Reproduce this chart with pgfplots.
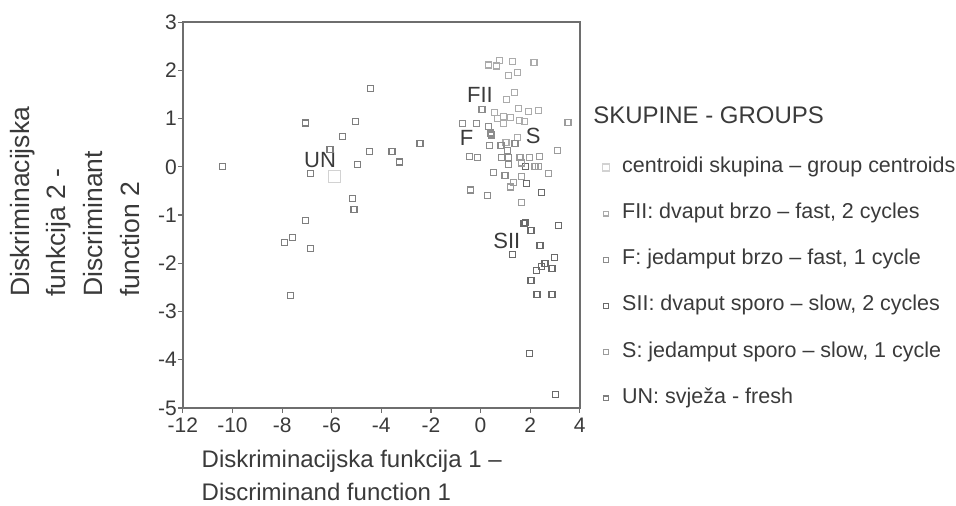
\documentclass[border=0pt]{standalone}
\usepackage{fontspec}
\setmainfont{Liberation Sans}
\usepackage{pgfplots}
\pgfplotsset{compat=1.18}
\definecolor{axgray}{HTML}{6E6E6E}
\definecolor{txt}{HTML}{3A3A3A}
\definecolor{cent}{HTML}{D2D2D2}
\definecolor{cFII}{HTML}{ABABAB}
\definecolor{cF}{HTML}{8C8C8C}
\definecolor{cSII}{HTML}{6A6A6A}
\definecolor{cS}{HTML}{9C9C9C}
\definecolor{cUN}{HTML}{7E7E7E}
\begin{document}
\begin{tikzpicture}
\begin{axis}[
 width=397pt, height=386pt, scale only axis,
 xmin=-12, xmax=4, ymin=-5, ymax=3,
 xtick={-12,-10,...,4}, ytick={-5,-4,...,3},
 tick align=outside, xtick pos=bottom, ytick pos=left,
 major tick length=5pt,
 axis line style={axgray, line width=1.6pt},
 every tick/.style={axgray, line width=1.2pt},
 tick label style={font=\fontsize{21}{21}\selectfont, text=txt},
 xticklabel style={inner sep=2pt, yshift=-3pt},
 yticklabel style={inner sep=1pt},
 /pgf/number format/assume math mode=true,
 clip=false,
 xlabel={Diskriminacijska funkcija 1 –\\Discriminand function 1},
 xlabel style={at={(axis description cs:0.047,-0.109)}, anchor=north west, align=left, font=\fontsize{24}{33}\selectfont, inner sep=0pt, text=txt},
 ylabel={Diskriminacijska\\funkcija 2 -\\Discriminant\\function 2},
 ylabel style={at={(axis description cs:-0.436,0.2876)}, anchor=north west, align=left, font=\fontsize{26.5}{36.7}\selectfont, inner sep=0pt, text=txt},
 legend style={draw=none, fill=none, at={(axis cs:4.90,0.24)}, anchor=north west,
   font=\fontsize{21.5}{21.5}\selectfont, text=txt, row sep=22.2pt, column sep=11pt, inner sep=0pt,
   nodes={inner sep=2pt, text height=15pt, text depth=5pt}},
 legend cell align=left,
]
\addplot[only marks, mark=square, mark size=6pt, draw=cent, line width=1.2pt,
  legend image post style={mark size=3.5pt}] coordinates {(-5.88,-0.2)};
\addlegendentry{centroidi skupina – group centroids}

\addplot[only marks, mark=square, mark size=3pt, draw=cFII, line width=1.2pt,
  legend image post style={mark size=2.4pt}] coordinates {
(0.31,2.11) (0.75,2.20) (1.30,2.19) (2.16,2.16) (0.64,2.09) (1.48,1.96) (1.12,1.89)
(1.38,1.54) (1.06,1.40) (0.58,1.13) (1.53,1.21) (1.92,1.15) (2.33,1.16) (0.68,1.00)
(0.92,1.05) (1.22,1.02) (1.56,0.96) (1.77,0.94) (0.92,0.90) (1.48,0.60) (1.03,0.51)
};
\addlegendentry{FII: dvaput brzo – fast, 2 cycles}

\addplot[only marks, mark=square, mark size=3pt, draw=cF, line width=1.2pt,
  legend image post style={mark size=2.4pt}] coordinates {
(0.06,1.19) (-0.72,0.90) (-0.15,0.90) (0.31,0.84) (0.41,0.70) (0.43,0.66) (0.35,0.44)
(0.83,0.44) (-0.45,0.22) (-0.13,0.19) (0.85,0.19) (1.12,0.19) (1.12,0.04) (0.52,-0.11)
(0.99,-0.18) (-0.40,-0.48) (0.27,-0.60) (1.39,0.48) (1.08,0.34)
};
\addlegendentry{F: jedamput brzo – fast, 1 cycle}

\addplot[only marks, mark=square, mark size=3pt, draw=cSII, line width=1.2pt,
  legend image post style={mark size=2.4pt}] coordinates {
(1.83,0.01) (1.86,-0.34) (2.47,-0.53) (1.83,-1.15) (1.75,-1.18) (2.04,-1.32) (3.15,-1.22)
(2.40,-1.63) (1.30,-1.82) (2.98,-1.88) (2.60,-2.00) (2.47,-2.07) (2.88,-2.11) (2.27,-2.15)
(2.04,-2.35) (2.28,-2.64) (2.88,-2.64) (1.97,-3.87) (3.04,-4.72)
};
\addlegendentry{SII: dvaput sporo – slow, 2 cycles}

\addplot[only marks, mark=square, mark size=3pt, draw=cS, line width=1.2pt,
  legend image post style={mark size=2.4pt}] coordinates {
(3.53,0.92) (3.10,0.33) (1.59,0.19) (1.97,0.20) (2.37,0.22) (1.66,0.08) (2.20,0.01)
(2.33,0.01) (2.74,-0.14) (1.66,-0.20) (1.32,-0.32) (1.22,-0.42) (1.66,-0.74)
};
\addlegendentry{S: jedamput sporo – slow, 1 cycle}

\addplot[only marks, mark=square, mark size=3pt, draw=cUN, line width=1.2pt,
  legend image post style={mark size=2.4pt}] coordinates {
(-10.40,0.01) (-4.42,1.63) (-7.05,0.91) (-5.03,0.94) (-5.58,0.63) (-6.07,0.36)
(-4.48,0.32) (-3.57,0.32) (-2.44,0.48) (-3.27,0.10) (-4.97,0.04) (-6.86,-0.14)
(-5.17,-0.66) (-5.10,-0.89) (-7.05,-1.11) (-7.59,-1.47) (-7.90,-1.57) (-6.86,-1.70)
(-7.65,-2.67)
};
\addlegendentry{UN: svježa - fresh}

\node[font=\fontsize{22}{22}\selectfont, text=txt] at (axis cs:-6.47,0.15) {UN};
\node[font=\fontsize{22}{22}\selectfont, text=txt] at (axis cs:-0.02,1.48) {FII};
\node[font=\fontsize{22}{22}\selectfont, text=txt] at (axis cs:-0.56,0.60) {F};
\node[font=\fontsize{22}{22}\selectfont, text=txt] at (axis cs:2.13,0.65) {S};
\node[font=\fontsize{22}{22}\selectfont, text=txt] at (axis cs:1.06,-1.53) {SII};
\node[font=\fontsize{24}{24}\selectfont, text=txt, anchor=base west, inner sep=0pt] at (axis cs:4.54,0.90) {SKUPINE - GROUPS};

\coordinate (bbll) at (axis cs:-19.375,-7.019);
\coordinate (bbur) at (axis cs:19.173,3.459);
\end{axis}
\pgfresetboundingbox
\path (bbll) rectangle (bbur);
\end{tikzpicture}
\end{document}
